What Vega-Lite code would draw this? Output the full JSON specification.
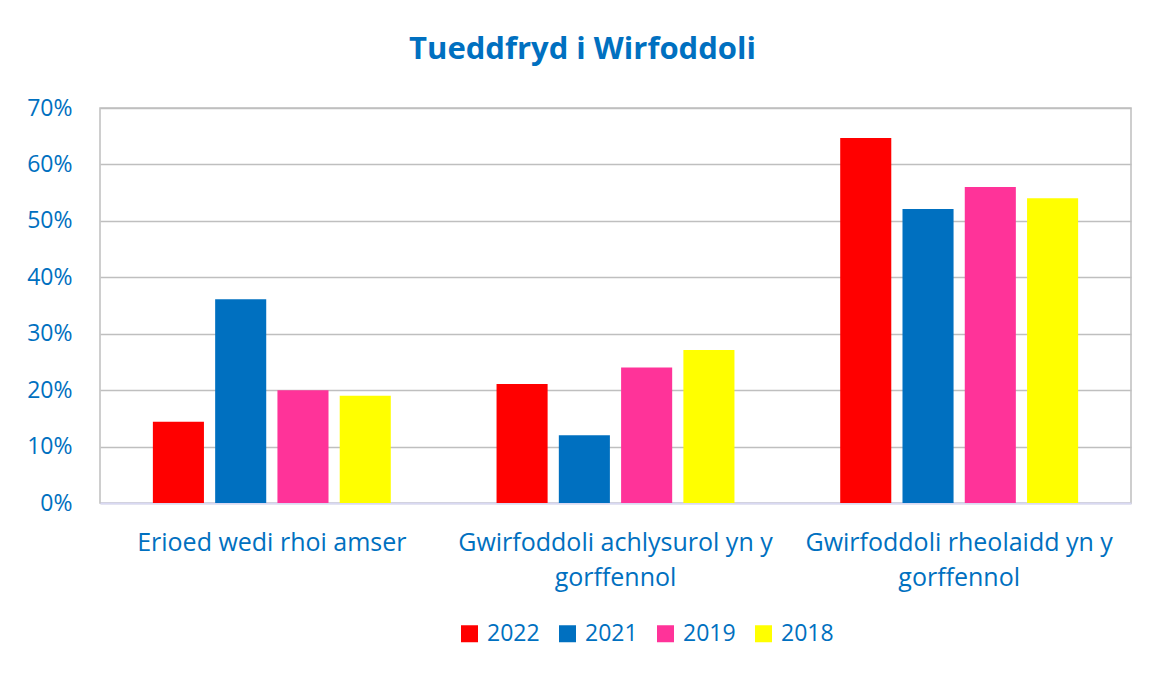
{
  "$schema": "https://vega.github.io/schema/vega-lite/v6.json",
  "width": 1031,
  "height": 395,
  "autosize": {"type": "none"},
  "padding": {"left": 100, "top": 108, "right": 22, "bottom": 172},
  "background": "white",
  "title": {
    "text": "Tueddfryd i Wirfoddoli",
    "font": "Open Sans",
    "fontSize": 31,
    "fontWeight": "bold",
    "color": "#0070C0",
    "anchor": "middle",
    "offset": 31,
    "dx": -33
  },
  "config": {
    "view": {"stroke": "#bfbfbf", "strokeWidth": 1.5},
    "font": "Open Sans"
  },
  "data": {
    "values": [
      {"category": "Erioed wedi rhoi amser", "year": "2022", "value": 0.144},
      {"category": "Erioed wedi rhoi amser", "year": "2021", "value": 0.361},
      {"category": "Erioed wedi rhoi amser", "year": "2019", "value": 0.200},
      {"category": "Erioed wedi rhoi amser", "year": "2018", "value": 0.190},
      {"category": "Gwirfoddoli achlysurol yn y gorffennol", "year": "2022", "value": 0.211},
      {"category": "Gwirfoddoli achlysurol yn y gorffennol", "year": "2021", "value": 0.120},
      {"category": "Gwirfoddoli achlysurol yn y gorffennol", "year": "2019", "value": 0.240},
      {"category": "Gwirfoddoli achlysurol yn y gorffennol", "year": "2018", "value": 0.271},
      {"category": "Gwirfoddoli rheolaidd yn y gorffennol", "year": "2022", "value": 0.647},
      {"category": "Gwirfoddoli rheolaidd yn y gorffennol", "year": "2021", "value": 0.521},
      {"category": "Gwirfoddoli rheolaidd yn y gorffennol", "year": "2019", "value": 0.560},
      {"category": "Gwirfoddoli rheolaidd yn y gorffennol", "year": "2018", "value": 0.540}
    ]
  },
  "mark": {"type": "bar"},
  "encoding": {
    "x": {
      "field": "category",
      "type": "nominal",
      "sort": null,
      "title": null,
      "scale": {"paddingInner": 0, "paddingOuter": 0},
      "axis": {
        "labelAngle": 0,
        "labelFont": "Open Sans",
        "labelFontSize": 25,
        "labelColor": "#0070C0",
        "labelPadding": 27,
        "labelLineHeight": 35,
        "labelLimit": 400,
        "ticks": false,
        "domainColor": "#d9d9f3",
        "domainWidth": 2,
        "labelExpr": "datum.label == 'Erioed wedi rhoi amser' ? datum.label : [slice(datum.label, 0, indexof(datum.label, ' gorffennol')), 'gorffennol']"
      }
    },
    "xOffset": {
      "field": "year",
      "type": "nominal",
      "sort": ["2022", "2021", "2019", "2018"],
      "scale": {"paddingInner": 0.18, "paddingOuter": 0.849}
    },
    "y": {
      "field": "value",
      "type": "quantitative",
      "title": null,
      "scale": {"domain": [0, 0.7]},
      "axis": {
        "values": [0, 0.1, 0.2, 0.3, 0.4, 0.5, 0.6, 0.7],
        "format": ".0%",
        "labelFont": "Open Sans",
        "labelFontSize": 23,
        "labelColor": "#0070C0",
        "labelPadding": 28,
        "ticks": false,
        "domain": false,
        "gridColor": "#bfbfbf",
        "gridWidth": 1.5
      }
    },
    "color": {
      "field": "year",
      "type": "nominal",
      "sort": ["2022", "2021", "2019", "2018"],
      "scale": {
        "domain": ["2022", "2021", "2019", "2018"],
        "range": ["#FF0000", "#0070C0", "#FF3399", "#FFFF00"]
      },
      "legend": {
        "orient": "none",
        "legendX": 358,
        "legendY": 514,
        "direction": "horizontal",
        "title": null,
        "symbolType": "square",
        "symbolSize": 289,
        "symbolStrokeWidth": 0,
        "symbolOffset": 0,
        "labelFont": "Open Sans",
        "labelFontSize": 23,
        "labelColor": "#0070C0",
        "labelOffset": 6,
        "columnPadding": 16
      }
    }
  }
}
